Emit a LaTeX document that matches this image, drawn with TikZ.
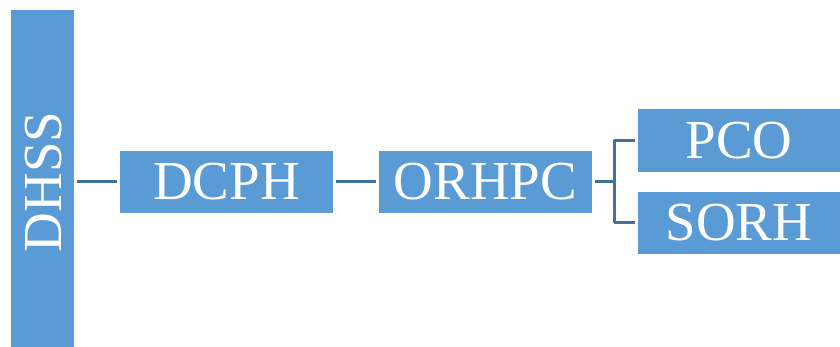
\documentclass[tikz,border=0pt]{standalone}
\usepackage{fontspec}
\setmainfont{Liberation Serif}
\definecolor{boxblue}{HTML}{5B9BD5}
\definecolor{linkblue}{HTML}{41719C}
\tikzset{
  unit/.style={fill=boxblue,text=white,inner sep=0pt,font=\fontsize{55}{55}\selectfont},
  link/.style={draw=linkblue,line width=3pt,shorten <=3pt,shorten >=3pt}
}
\begin{document}
\begin{tikzpicture}[x=1pt,y=-1pt,line join=round]
  \useasboundingbox (0,0) rectangle (840,347);
  \node[unit,minimum width=63pt,minimum height=337pt] (DHSS) at (42.5,178.5) {};
  \node[white,font=\fontsize{55}{55}\selectfont,rotate=90] at (44,182) {DHSS};
  \node[unit,minimum width=213pt,minimum height=62pt] (DCPH) at (226.5,182) {DCPH};
  \node[unit,minimum width=213pt,minimum height=62pt] (ORHPC) at (485.5,182) {ORHPC};
  \node[unit,minimum width=202pt,minimum height=63pt] (PCO) at (739,140.5) {PCO};
  \node[unit,minimum width=202pt,minimum height=62pt] (SORH) at (739,223) {SORH};
  \draw[link] (DCPH.west -| DHSS.east) -- (DCPH.west);
  \draw[link] (DCPH) -- (ORHPC);
  \coordinate (fork) at ([xshift=22pt]ORHPC.east);
  \draw[link,shorten >=0pt] (ORHPC.east) -- (fork);
  \draw[link] (PCO.west) -| (fork) |- (SORH.west);
\end{tikzpicture}
\end{document}
